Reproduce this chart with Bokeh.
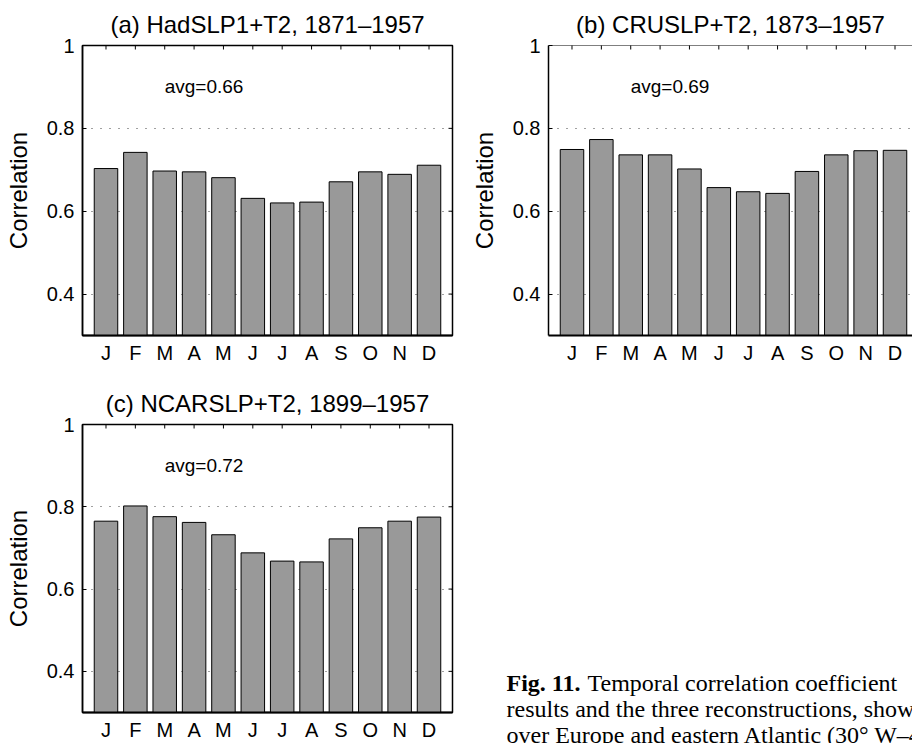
import math
from bokeh.plotting import figure
from bokeh.models import Range1d, FixedTicker, NumeralTickFormatter, ColumnDataSource, Span, Label
from bokeh.layouts import column, row
from bokeh.embed import file_html
from bokeh.resources import INLINE
from bokeh.core.properties import value

# ---------------- data ----------------
months = ["J", "F", "M", "A", "M", "J", "J", "A", "S", "O", "N", "D"]
month_pos = list(range(1, 13))
had_corr = [0.703, 0.742, 0.697, 0.695, 0.681, 0.631, 0.620, 0.622, 0.671, 0.695, 0.689, 0.711]
cru_corr = [0.749, 0.773, 0.736, 0.736, 0.702, 0.657, 0.647, 0.643, 0.696, 0.736, 0.746, 0.747]
ncar_corr = [0.765, 0.802, 0.776, 0.762, 0.732, 0.688, 0.668, 0.666, 0.722, 0.749, 0.765, 0.775]
panel_titles = ["(a) HadSLP1+T2, 1871\u20131957",
                "(b) CRUSLP+T2, 1873\u20131957",
                "(c) NCARSLP+T2, 1899\u20131957"]
avg_labels = ["avg=0.66", "avg=0.69", "avg=0.72"]
avg_x, avg_y = 3, 0.9
y_ticks = [0.4, 0.6, 0.8, 1.0]
grid_ticks = [0.4, 0.6, 0.8]
y_label = "Correlation"
caption_bold = "Fig. 11."
caption_lines = ["Temporal correlation coefficient",
                 "results and the three reconstructions, shown as",
                 "over Europe and eastern Atlantic (30\u00b0 W\u201340\u00b0 E,"]

SANS = "Liberation Sans"
SERIF = "Liberation Serif"
BAR_GRAY = "#999999"
PX_PER_UNIT = 370 / 12.6
Y0, Y1 = 0.3, 1.0


def make_panel(vals, title_text, avg_text, width, height, mb_right, mb_top, mb_bottom, full_box):
    frame_w = width - 82 - mb_right
    x0 = 0.2
    x_end = x0 + frame_w / PX_PER_UNIT
    p = figure(width=width, height=height,
               x_range=Range1d(x0, x_end), y_range=Range1d(Y0, Y1),
               output_backend="svg", toolbar_location=None,
               min_border_left=82, min_border_right=mb_right,
               min_border_top=mb_top, min_border_bottom=mb_bottom,
               background_fill_color="white", border_fill_color="white")

    p.xgrid.grid_line_color = None
    p.ygrid.ticker = FixedTicker(ticks=grid_ticks)
    p.ygrid.grid_line_color = "black"
    p.ygrid.grid_line_width = 1
    p.ygrid.grid_line_dash = "1 8"
    p.ygrid.grid_line_alpha = 0.75

    src = ColumnDataSource(dict(x=month_pos, top=vals))
    p.vbar(x="x", top="top", bottom=0, width=0.8, source=src,
           fill_color=BAR_GRAY, line_color="black", line_width=1)
    p.text(x=[avg_x], y=[avg_y], text=[avg_text], text_font=value(SANS),
           text_font_size="19px", text_baseline="middle", text_align="left",
           text_color="black")

    # inward tick marks on the top edge (half of each dash is clipped by the frame)
    p.scatter(x=month_pos, y=[Y1] * len(month_pos), marker="dash", angle=math.pi / 2,
              size=8, line_color="black", line_width=1)

    # title
    p.title.text = title_text
    p.title.align = "center"
    p.title.text_font = SANS
    p.title.text_font_size = "24px"
    p.title.text_font_style = "normal"
    p.title.text_color = "black"
    p.title.standoff = 16

    # bottom axis
    xa = p.xaxis[0]
    xa.ticker = FixedTicker(ticks=month_pos)
    xa.major_label_overrides = {i: m for i, m in zip(month_pos, months)}
    xa.major_label_text_font = SANS
    xa.major_label_text_font_size = "20px"
    xa.major_label_text_color = "black"
    xa.major_label_standoff = 6
    xa.major_tick_in = 0
    xa.major_tick_out = 0
    xa.major_tick_line_color = None
    xa.minor_tick_line_color = None
    xa.axis_line_color = "black"
    xa.axis_line_width = 2

    # left axis
    ya = p.yaxis[0]
    ya.ticker = FixedTicker(ticks=y_ticks)
    ya.formatter = NumeralTickFormatter(format="0.[0]")
    ya.major_label_text_font = SANS
    ya.major_label_text_font_size = "20px"
    ya.major_label_text_color = "black"
    ya.major_label_standoff = 8
    ya.major_tick_in = 4
    ya.major_tick_out = 0
    ya.minor_tick_line_color = None
    ya.axis_line_color = "black"
    ya.axis_line_width = 1.5
    ya.axis_label = y_label
    ya.axis_label_text_font = SANS
    ya.axis_label_text_font_size = "24px"
    ya.axis_label_text_font_style = "normal"
    ya.axis_label_text_color = "black"
    ya.axis_label_standoff = 12

    if full_box:
        p.outline_line_color = "black"
        p.outline_line_width = 1.5
        # inward tick marks on the right edge
        p.scatter(x=[x_end] * len(grid_ticks), y=grid_ticks, marker="dash",
                  size=8, line_color="black", line_width=1)
    else:
        p.outline_line_color = None
        p.add_layout(Span(location=Y1, dimension="width", line_color="black",
                          line_width=1))
    return p


pa = make_panel(had_corr, panel_titles[0], avg_labels[0], 466, 366, 14, 45, 30, True)
pb = make_panel(cru_corr, panel_titles[1], avg_labels[1], 446, 366, 0, 45, 30, False)
pc = make_panel(ncar_corr, panel_titles[2], avg_labels[2], 466, 377, 14, 58, 28, True)

# caption panel: ranges are in page pixels
CAP_LEFT, CAP_RIGHT = 466, 912
CAP_TOP, CAP_BOTTOM = 366, 743
cap = figure(width=CAP_RIGHT - CAP_LEFT, height=CAP_BOTTOM - CAP_TOP,
             x_range=Range1d(CAP_LEFT, CAP_RIGHT), y_range=Range1d(CAP_BOTTOM, CAP_TOP),
             output_backend="svg", toolbar_location=None,
             x_axis_location=None, y_axis_location=None, min_border=0,
             outline_line_color=None, background_fill_color="white",
             border_fill_color="white")
cap.xgrid.visible = False
cap.ygrid.visible = False
cap_x = 506
cap_base = [682, 708, 734]
cap.add_layout(Label(x=cap_x, y=cap_base[0], text=caption_bold, text_font=SERIF,
                     text_font_size="24px", text_font_style="bold",
                     text_baseline="alphabetic", text_align="left", text_color="black"))
for xx, yy, tt in zip([cap_x + 81, cap_x, cap_x], cap_base, caption_lines):
    cap.add_layout(Label(x=xx, y=yy, text=tt, text_font=SERIF, text_font_size="24px",
                         text_baseline="alphabetic", text_align="left",
                         text_color="black"))

layout = column(row(pa, pb), row(pc, column(cap)))

open("out.html", "w").write(file_html(layout, INLINE))
